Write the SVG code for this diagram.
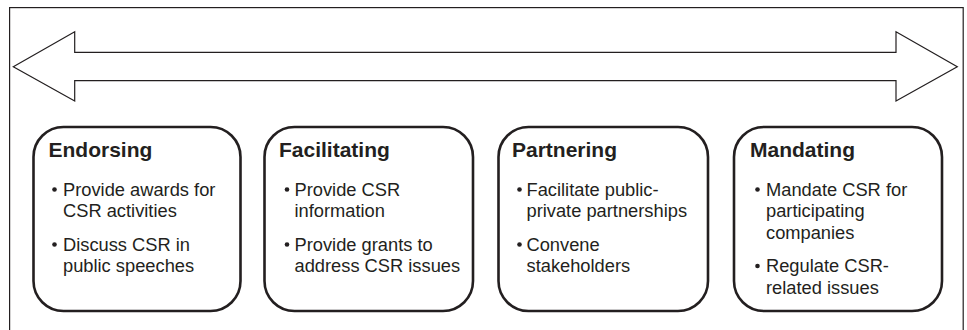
<svg xmlns="http://www.w3.org/2000/svg" width="967" height="330" viewBox="0 0 967 330">
  <style>
    .frame { fill: #ffffff; stroke: #231f20; stroke-width: 1.2; }
    .arrow { fill: #ffffff; stroke: #231f20; stroke-width: 1.2; stroke-linejoin: miter; }
    .box { fill: #ffffff; stroke: #231f20; stroke-width: 2.6; }
    .title { font-family: "Liberation Sans", Arial, sans-serif; font-weight: bold; font-size: 21px; fill: #231f20; }
    .item { font-family: "Liberation Sans", Arial, sans-serif; font-size: 18.3px; fill: #231f20; }
    .dot { fill: #231f20; }
  </style>

  <!-- outer frame -->
  <rect class="frame" x="9.6" y="7.6" width="953.6" height="330"/>

  <!-- double-headed spectrum arrow -->
  <g id="connectors">
    <path class="arrow" d="M13.3,66.7 L74.7,31.7 L74.7,52.3 L896,52.3 L896,31.7 L957.3,66.7 L896,101 L896,80.7 L74.7,80.7 L74.7,101 Z"/>
  </g>

  <g id="endorsing">
    <rect class="box" x="33.5" y="127" width="207" height="184" rx="30" ry="30"/>
    <text class="title" x="48.5" y="157">Endorsing</text>
    <circle class="dot" cx="54.5" cy="189.5" r="2.3"/>
    <text class="item" x="63" y="195.5">Provide awards for</text>
    <text class="item" x="63" y="217">CSR activities</text>
    <circle class="dot" cx="54.5" cy="244.5" r="2.3"/>
    <text class="item" x="63" y="250.5">Discuss CSR in</text>
    <text class="item" x="63" y="272">public speeches</text>
  </g>

  <g id="facilitating">
    <rect class="box" x="264.5" y="127" width="208.5" height="184" rx="30" ry="30"/>
    <text class="title" x="279" y="157">Facilitating</text>
    <circle class="dot" cx="287" cy="189.5" r="2.3"/>
    <text class="item" x="294.5" y="195.5">Provide CSR</text>
    <text class="item" x="294.5" y="217">information</text>
    <circle class="dot" cx="287" cy="244.5" r="2.3"/>
    <text class="item" x="294.5" y="250.5">Provide grants to</text>
    <text class="item" x="294.5" y="272">address CSR issues</text>
  </g>

  <g id="partnering">
    <rect class="box" x="498.5" y="127" width="209.5" height="184" rx="30" ry="30"/>
    <text class="title" x="512" y="157">Partnering</text>
    <circle class="dot" cx="519.5" cy="189.5" r="2.3"/>
    <text class="item" x="526.5" y="195.5">Facilitate public-</text>
    <text class="item" x="526.5" y="217">private partnerships</text>
    <circle class="dot" cx="519.5" cy="244.5" r="2.3"/>
    <text class="item" x="526.5" y="250.5">Convene</text>
    <text class="item" x="526.5" y="272">stakeholders</text>
  </g>

  <g id="mandating">
    <rect class="box" x="734" y="127" width="208" height="184" rx="30" ry="30"/>
    <text class="title" x="750" y="157">Mandating</text>
    <circle class="dot" cx="757.5" cy="189.5" r="2.3"/>
    <text class="item" x="766" y="195.5">Mandate CSR for</text>
    <text class="item" x="766" y="217">participating</text>
    <text class="item" x="766" y="238.5">companies</text>
    <circle class="dot" cx="757.5" cy="266" r="2.3"/>
    <text class="item" x="766" y="272">Regulate CSR-</text>
    <text class="item" x="766" y="293.5">related issues</text>
  </g>
</svg>
